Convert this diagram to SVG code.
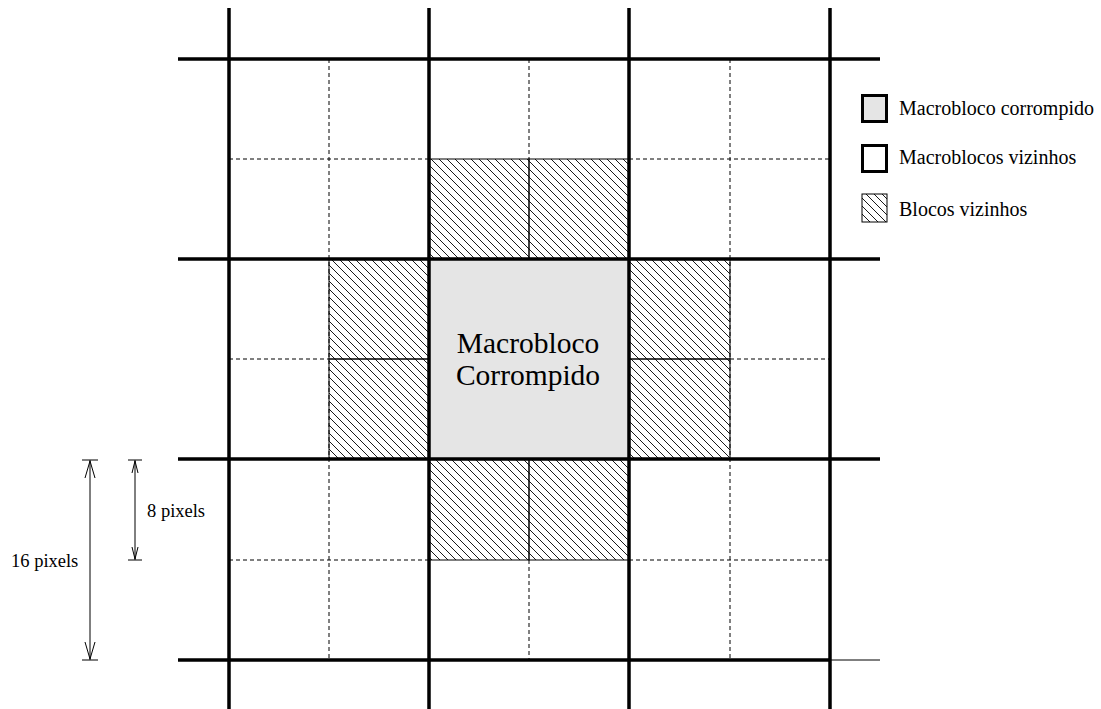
<svg xmlns="http://www.w3.org/2000/svg" width="1101" height="709" viewBox="0 0 1101 709">
<style>
.thick{stroke:#000;stroke-width:3.5;fill:none}
.dash{stroke:#000;stroke-width:1;stroke-dasharray:4,3;fill:none}
.thin{stroke:#000;stroke-width:1;fill:none}
.hatch{fill:url(#h);stroke:#000;stroke-width:1}
text{font-family:"Liberation Serif",serif;fill:#000}
.lbl{font-size:18.5px}
.leg{font-size:20px}
.big{font-size:29.5px}
</style>
<defs>
<pattern id="h" patternUnits="userSpaceOnUse" width="8" height="8">
<path d="M-2,-2 L10,10 M-10,-2 L2,10 M6,-2 L18,10" stroke="#000" stroke-width="0.9"/>
</pattern>
</defs>
<g id="center">
<rect x="429" y="259" width="200" height="200" fill="#e5e5e5"/>
<text class="big" x="528" y="353" text-anchor="middle">Macrobloco</text>
<text class="big" x="528" y="385" text-anchor="middle">Corrompido</text>
</g>
<g id="hatched-blocks">
<rect class="hatch" x="429" y="159" width="100" height="100"/>
<rect class="hatch" x="529" y="159" width="100" height="100"/>
<rect class="hatch" x="329" y="259" width="100" height="100"/>
<rect class="hatch" x="329" y="359" width="100" height="100"/>
<rect class="hatch" x="629" y="259" width="101" height="100"/>
<rect class="hatch" x="629" y="359" width="101" height="100"/>
<rect class="hatch" x="429" y="459" width="100" height="101"/>
<rect class="hatch" x="529" y="459" width="100" height="101"/>
</g>
<g id="grid">
<path class="dash" d="M329,59V660 M529,59V159 M529,560V660 M730,59V660 M229,159H429 M629,159H830 M229,359H329 M730,359H830 M229,560H429 M629,560H830"/>
<path class="thick" d="M229,8V709 M429,8V709 M629,8V709 M830,8V709 M178,59H880 M178,259H880 M178,459H880 M178,660H830"/>
<path class="thin" d="M830,660H880"/>
</g>
<g id="dimensions">
<path class="thin" d="M82,460H98 M82,660H98 M128,460H142 M128,560H142"/>
<path class="thin" d="M90,460V660 M135,460V560"/>
<path class="thin" d="M85,478L90,461L95,478 M85,642L90,659L95,642 M132,473L135,461L138,473 M132,547L135,559L138,547"/>
<text class="lbl" x="11" y="567">16 pixels</text>
<text class="lbl" x="147" y="517">8 pixels</text>
</g>
<g id="legend">
<rect x="862.5" y="95.5" width="24" height="26" fill="#e5e5e5" stroke="#000" stroke-width="3"/>
<text class="leg" x="899" y="115">Macrobloco corrompido</text>
<rect x="862.5" y="145.5" width="24" height="26" fill="#fff" stroke="#000" stroke-width="3"/>
<text class="leg" x="899" y="164">Macroblocos vizinhos</text>
<rect x="862" y="194" width="25" height="28" fill="url(#h)" stroke="#000" stroke-width="1"/>
<text class="leg" x="899" y="216">Blocos vizinhos</text>
</g>
</svg>
